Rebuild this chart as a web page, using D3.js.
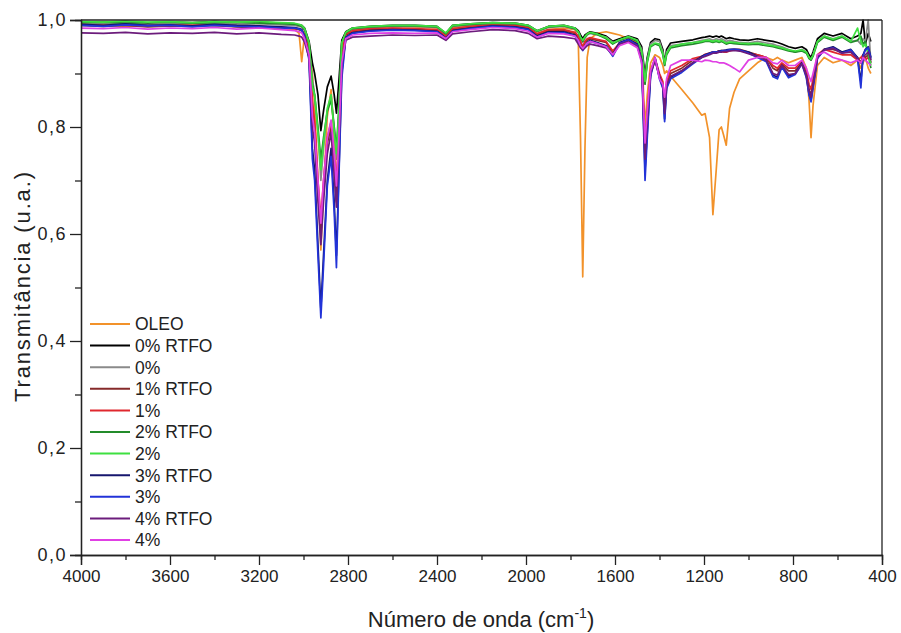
<!DOCTYPE html>
<html>
<head>
<meta charset="utf-8">
<script src="https://cdnjs.cloudflare.com/ajax/libs/d3/7.8.5/d3.min.js"></script>
<style>
  body { margin: 0; background: #fff; }
  svg { display: block; font-family: "Liberation Sans", Arial, sans-serif; }
</style>
</head>
<body>
<div id="chart"></div>
<script>
// wavenumber grid shared by all spectra (cm-1)
const wavenumber = [
  4000, 3900, 3800, 3700, 3600, 3500, 3400, 3300, 3200, 3100,
  3040, 3020, 3008, 2995, 2975, 2960, 2950, 2935, 2922, 2910,
  2893, 2876, 2862, 2852, 2842, 2828, 2810, 2780, 2700, 2600,
  2500, 2400, 2360, 2330, 2250, 2150, 2050, 1990, 1950, 1900,
  1830, 1780, 1765, 1755, 1745, 1735, 1725, 1712, 1680, 1640,
  1610, 1580, 1540, 1500, 1480, 1465, 1455, 1440, 1420, 1400,
  1385, 1377, 1368, 1350, 1300, 1250, 1210, 1195, 1175, 1160,
  1145, 1132, 1122, 1112, 1100, 1085, 1065, 1040, 1000, 960,
  920, 890, 870, 850, 820, 790, 760, 740, 728, 719,
  710, 690, 660, 620, 580, 540, 510, 495, 485, 475,
  462, 450
];

const oleo = [
  .990, .992, .988, .991, .989, .993, .990, .988, .986, .984,
  .982, .975, .922, .975, .955, .90, .84, .70, .570, .68,
  .82, .87, .78, .68, .78, .93, .975, .982, .985, .988,
  .987, .985, .975, .986, .99, .992, .99, .985, .975, .982,
  .985, .982, .96, .78, .52, .76, .93, .965, .975, .978,
  .975, .972, .965, .958, .945, .80, .86, .92, .935, .93,
  .915, .90, .905, .895, .87, .845, .822, .825, .78, .636,
  .72, .795, .80, .785, .766, .835, .865, .89, .905, .92,
  .93, .925, .93, .925, .92, .925, .93, .91, .85, .78,
  .84, .915, .93, .92, .925, .915, .925, .91, .92, .93,
  .91, .90
];
const rtfo0 = [
  .996, .995, .997, .994, .996, .995, .997, .995, .996, .994,
  .993, .99, .99, .985, .96, .92, .90, .86, .793, .83,
  .875, .895, .86, .826, .88, .962, .978, .985, .988, .99,
  .99, .988, .975, .99, .993, .995, .994, .99, .98, .988,
  .99, .985, .98, .972, .965, .972, .975, .978, .975, .97,
  .96, .965, .97, .965, .95, .897, .93, .958, .965, .963,
  .945, .92, .945, .957, .96, .963, .967, .968, .97, .968,
  .97, .968, .97, .968, .965, .967, .965, .963, .962, .965,
  .962, .96, .958, .955, .95, .947, .95, .945, .935, .93,
  .94, .965, .975, .97, .975, .965, .97, .975, 1.0, .955,
  .975, .96
];
const pct0 = [
  .994, .993, .995, .992, .994, .993, .994, .992, .993, .991,
  .99, .988, .987, .98, .95, .89, .86, .79, .70, .76,
  .83, .86, .80, .74, .82, .955, .975, .983, .986, .988,
  .988, .986, .972, .988, .991, .993, .992, .988, .978, .986,
  .988, .983, .976, .965, .958, .966, .972, .975, .972, .968,
  .958, .962, .968, .962, .945, .88, .925, .955, .962, .96,
  .94, .915, .94, .952, .955, .958, .962, .963, .965, .962,
  .965, .963, .965, .963, .96, .962, .96, .958, .957, .96,
  .957, .955, .952, .95, .945, .94, .945, .94, .93, .925,
  .935, .96, .97, .965, .97, .96, .962, .955, .965, .96,
  1.0, .92
];
const rtfo1 = [
  .99, .988, .99, .987, .989, .988, .99, .987, .986, .985,
  .984, .982, .98, .97, .94, .84, .80, .68, .60, .68,
  .77, .80, .72, .66, .76, .93, .972, .978, .982, .984,
  .983, .98, .968, .982, .986, .99, .988, .985, .972, .98,
  .98, .975, .968, .958, .948, .958, .962, .965, .962, .958,
  .94, .955, .962, .952, .925, .75, .82, .90, .925, .895,
  .88, .83, .88, .90, .91, .925, .93, .935, .937, .94,
  .94, .942, .943, .943, .943, .944, .945, .945, .94, .935,
  .93, .91, .905, .918, .905, .905, .92, .90, .87, .86,
  .88, .93, .945, .945, .94, .94, .93, .92, .935, .93,
  .935, .92
];
const pct1 = [
  .992, .99, .991, .989, .99, .99, .991, .989, .988, .986,
  .985, .983, .982, .972, .945, .85, .81, .70, .63, .70,
  .78, .81, .74, .70, .78, .935, .974, .98, .984, .985,
  .984, .982, .97, .984, .988, .991, .99, .986, .974, .982,
  .982, .977, .97, .96, .95, .96, .965, .967, .964, .96,
  .942, .957, .963, .955, .928, .76, .83, .905, .928, .9,
  .885, .84, .885, .905, .915, .928, .932, .936, .938, .94,
  .94, .942, .942, .94, .94, .942, .944, .944, .938, .935,
  .93, .915, .91, .92, .91, .91, .922, .905, .88, .87,
  .89, .935, .945, .94, .935, .935, .925, .93, .935, .925,
  .93, .925
];
const rtfo2 = [
  .995, .996, .994, .995, .996, .994, .995, .996, .994, .993,
  .992, .99, .988, .982, .955, .88, .86, .80, .74, .78,
  .83, .85, .80, .76, .83, .958, .976, .984, .987, .989,
  .989, .987, .974, .989, .992, .994, .993, .989, .979, .987,
  .989, .984, .978, .968, .96, .968, .973, .976, .973, .965,
  .955, .962, .968, .96, .94, .88, .92, .95, .955, .952,
  .935, .915, .935, .948, .952, .955, .958, .96, .96, .958,
  .96, .958, .96, .958, .955, .957, .956, .955, .954, .955,
  .952, .95, .948, .946, .942, .94, .942, .938, .928, .925,
  .932, .958, .968, .962, .968, .958, .962, .97, .955, .96,
  .935, .91
];
const pct2 = [
  .997, .996, .998, .996, .997, .995, .997, .996, .997, .995,
  .994, .992, .99, .984, .958, .875, .86, .79, .72, .77,
  .835, .86, .79, .75, .82, .957, .977, .985, .988, .99,
  .99, .988, .976, .99, .993, .995, .994, .99, .98, .988,
  .99, .985, .978, .968, .962, .969, .974, .977, .974, .967,
  .957, .963, .969, .962, .942, .885, .923, .952, .957, .955,
  .938, .918, .938, .95, .955, .958, .96, .962, .962, .96,
  .962, .96, .962, .96, .957, .959, .958, .957, .956, .957,
  .954, .952, .95, .948, .944, .942, .944, .94, .93, .927,
  .934, .96, .97, .964, .97, .96, .985, .96, .95, .955,
  .94, .915
];
const rtfo3 = [
  .992, .99, .993, .99, .991, .989, .992, .99, .989, .987,
  .986, .984, .982, .97, .93, .76, .72, .58, .46, .56,
  .70, .76, .66, .56, .70, .90, .968, .976, .98, .982,
  .981, .979, .966, .98, .985, .989, .987, .983, .97, .978,
  .978, .972, .962, .952, .945, .952, .958, .962, .958, .952,
  .935, .958, .964, .955, .925, .72, .79, .90, .93, .893,
  .875, .815, .875, .893, .905, .92, .932, .935, .938, .94,
  .94, .942, .943, .943, .944, .945, .945, .944, .94, .932,
  .925, .897, .893, .915, .895, .9, .92, .895, .862, .85,
  .875, .93, .945, .95, .94, .945, .93, .885, .935, .945,
  .95, .93
];
const pct3 = [
  .99, .988, .991, .989, .99, .987, .99, .988, .987, .985,
  .985, .983, .981, .968, .925, .74, .70, .56, .443, .54,
  .69, .745, .64, .537, .69, .89, .966, .975, .979, .981,
  .98, .978, .965, .979, .984, .988, .986, .982, .968, .976,
  .976, .97, .96, .95, .943, .95, .956, .96, .956, .95,
  .932, .956, .963, .953, .922, .70, .78, .895, .928, .89,
  .872, .81, .872, .89, .902, .918, .93, .934, .937, .94,
  .94, .941, .942, .943, .943, .944, .945, .944, .938, .93,
  .922, .894, .89, .912, .892, .898, .918, .892, .86, .847,
  .872, .928, .944, .948, .938, .944, .928, .873, .932, .944,
  .948, .928
];
const rtfo4 = [
  .976, .975, .977, .974, .976, .975, .977, .974, .976, .973,
  .972, .97, .968, .958, .93, .80, .77, .66, .58, .66,
  .75, .79, .71, .65, .75, .915, .962, .968, .97, .972,
  .971, .972, .962, .974, .978, .982, .98, .975, .965, .97,
  .968, .965, .955, .948, .944, .948, .952, .955, .952, .948,
  .935, .955, .96, .952, .925, .74, .81, .90, .925, .893,
  .878, .825, .878, .895, .905, .92, .93, .932, .935, .938,
  .938, .94, .94, .941, .941, .942, .943, .942, .937, .932,
  .925, .9, .897, .915, .898, .9, .918, .896, .868, .856,
  .878, .93, .944, .947, .938, .94, .928, .92, .93, .935,
  .94, .925
];
const pct4 = [
  .985, .984, .986, .983, .985, .984, .986, .983, .985, .982,
  .98, .978, .976, .965, .935, .82, .79, .70, .62, .70,
  .78, .813, .75, .69, .77, .92, .965, .972, .975, .976,
  .975, .976, .965, .978, .982, .986, .984, .979, .968, .975,
  .974, .97, .962, .952, .947, .952, .957, .96, .956, .95,
  .935, .952, .958, .948, .92, .77, .83, .905, .93, .89,
  .88, .856, .89, .915, .925, .925, .922, .925, .924, .922,
  .922, .92, .92, .92, .918, .915, .91, .903, .925, .93,
  .93, .92, .918, .925, .915, .915, .925, .91, .895, .885,
  .9, .935, .94, .93, .925, .92, .925, .92, .93, .925,
  .92, .915
];

const seriesNames = ['OLEO', '0% RTFO', '0%', '1% RTFO', '1%', '2% RTFO', '2%', '3% RTFO', '3%', '4% RTFO', '4%'];
const seriesValues = [oleo, rtfo0, pct0, rtfo1, pct1, rtfo2, pct2, rtfo3, pct3, rtfo4, pct4];
const seriesColors = ['#f2922a', '#000000', '#8a8a8a', '#862a2a', '#e0282e', '#238b2a', '#3ee040', '#16166e', '#2233d8', '#6c1c7c', '#e040e4'];

const xMajor = [4000, 3600, 3200, 2800, 2400, 2000, 1600, 1200, 800, 400];
const xMinor = [3800, 3400, 3000, 2600, 2200, 1800, 1400, 1000, 600];
const yMajor = [0, 0.2, 0.4, 0.6, 0.8, 1.0];
const yMinor = [0.1, 0.3, 0.5, 0.7, 0.9];

let size = {width: 901, height: 633};
let margins = {top: 20, right: 19, bottom: 78, left: 81};

let svg = d3.select('#chart').append('svg')
  .attr('width', size.width)
  .attr('height', size.height);

svg.append('rect').attr('width', size.width).attr('height', size.height).attr('fill', '#fff');

let x = d3.scaleLinear().domain([4000, 400]).range([margins.left, size.width - margins.right]);
let y = d3.scaleLinear().domain([0, 1]).range([size.height - margins.bottom, margins.top]);

svg.append('clipPath').attr('id', 'plot')
  .append('rect')
  .attr('x', x(4000)).attr('y', y(1) - 1)
  .attr('width', x(400) - x(4000)).attr('height', y(0) - y(1) + 1);

let line = d3.line()
  .x((d, i) => x(wavenumber[i]))
  .y(d => y(d));

let plot = svg.append('g').attr('clip-path', 'url(#plot)');
seriesValues.forEach(function(vals, k){
  plot.append('path')
    .attr('d', line(vals))
    .attr('fill', 'none')
    .attr('stroke', seriesColors[k])
    .attr('stroke-width', 1.7)
    .attr('stroke-linejoin', 'round');
});

// frame: top and right
svg.append('line')
  .attr('x1', x(4000)).attr('x2', x(400)).attr('y1', y(1)).attr('y2', y(1))
  .attr('stroke', '#222').attr('stroke-width', 1.3);
svg.append('line')
  .attr('x1', x(400)).attr('x2', x(400)).attr('y1', y(1)).attr('y2', y(0))
  .attr('stroke', '#222').attr('stroke-width', 1.3);

function styleAxis(g, fs, ls){
  g.select('.domain').attr('stroke', '#222').attr('stroke-width', 1.3);
  g.selectAll('.tick line').attr('stroke', '#222').attr('stroke-width', 1.3);
  g.selectAll('.tick text').attr('fill', '#222').style('font-size', fs + 'px')
    .style('letter-spacing', ls + 'px')
    .style('font-family', '"Liberation Sans", Arial, sans-serif');
}

let gx = svg.append('g')
  .attr('transform', `translate(0,${y(0)})`)
  .call(d3.axisBottom(x).tickValues(xMajor).tickSize(10).tickPadding(5).tickFormat(d3.format('d')));
styleAxis(gx, 17, 0);
let gxm = svg.append('g')
  .attr('transform', `translate(0,${y(0)})`)
  .call(d3.axisBottom(x).tickValues(xMinor).tickSize(5).tickFormat(''));
styleAxis(gxm, 17, 0);

let gy = svg.append('g')
  .attr('transform', `translate(${x(4000)},0)`)
  .call(d3.axisLeft(y).tickValues(yMajor).tickSize(11).tickPadding(3)
    .tickFormat(d => d.toFixed(1).replace('.', ',')));
styleAxis(gy, 18, 1.5);
let gym = svg.append('g')
  .attr('transform', `translate(${x(4000)},0)`)
  .call(d3.axisLeft(y).tickValues(yMinor).tickSize(6).tickFormat(''));
styleAxis(gym, 18, 0);

// axis titles
let xt = svg.append('text')
  .attr('x', 481).attr('y', 627)
  .attr('text-anchor', 'middle')
  .attr('fill', '#222')
  .style('font-size', '22px');
xt.append('tspan').text('Número de onda (cm');
xt.append('tspan').attr('dy', -9).style('font-size', '14px').text('-1');
xt.append('tspan').attr('dy', 9).text(')');

svg.append('text')
  .attr('transform', 'translate(30,287) rotate(-90)')
  .attr('text-anchor', 'middle')
  .attr('fill', '#222')
  .style('font-size', '22px')
  .attr('textLength', 230)
  .text('Transmitância (u.a.)');

// legend
let legend = svg.append('g').attr('transform', 'translate(90,324)');
seriesNames.forEach(function(name, k){
  let row = legend.append('g').attr('transform', `translate(0,${k * 21.6})`);
  row.append('line')
    .attr('x1', 0).attr('x2', 40).attr('y1', 0).attr('y2', 0)
    .attr('stroke', seriesColors[k]).attr('stroke-width', 2);
  row.append('text')
    .attr('x', 45).attr('y', 0).attr('dy', '0.36em')
    .attr('fill', '#222')
    .style('font-size', '17.5px')
    .text(name);
});
</script>
</body>
</html>
